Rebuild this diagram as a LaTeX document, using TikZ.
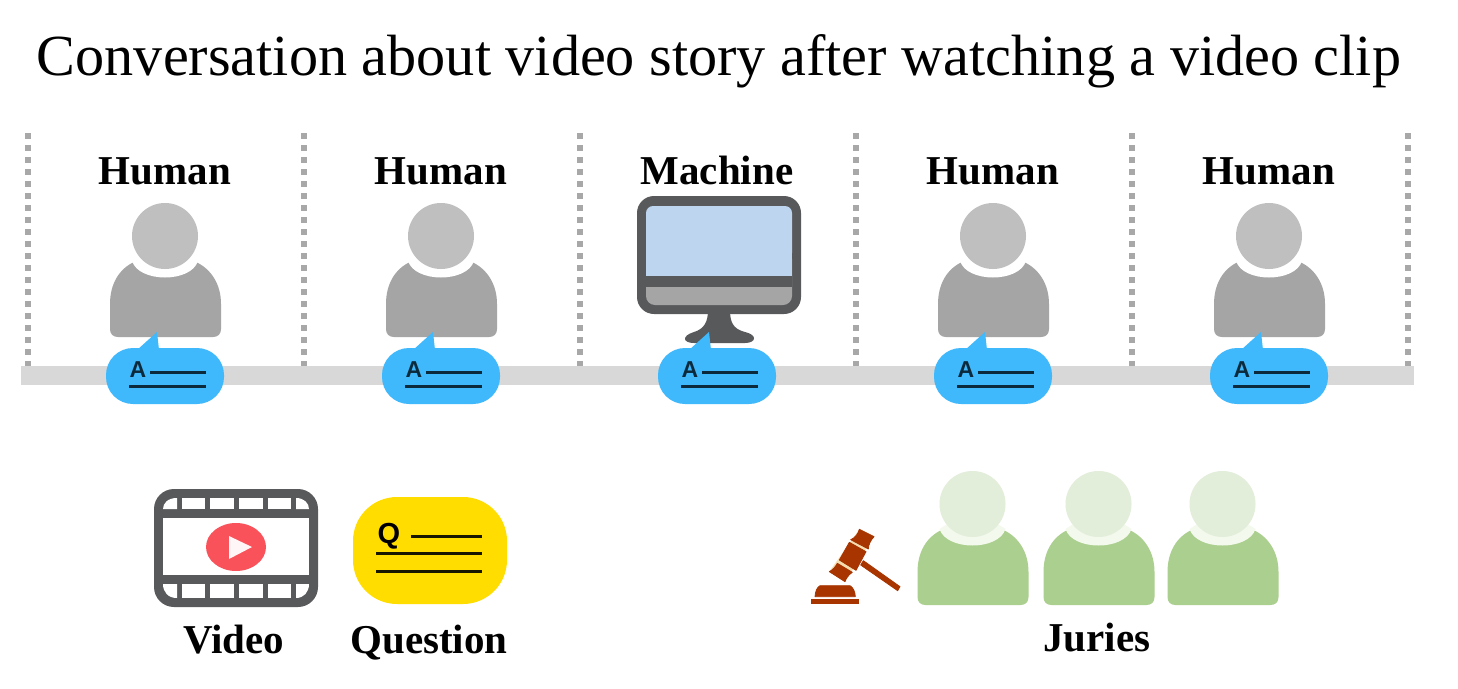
\documentclass[tikz,border=0pt]{standalone}
\usepackage{fontspec}
\setmainfont{Liberation Serif}
\newfontfamily\glyphfont{Liberation Sans}
\definecolor{bandgray}{HTML}{D8D8D8}
\definecolor{dotgray}{HTML}{A8A8A8}
\definecolor{headgray}{HTML}{BFBFBF}
\definecolor{bodygray}{HTML}{A5A5A6}
\definecolor{bubbleblue}{HTML}{3FB8FC}
\definecolor{inkdark}{HTML}{0B2A3C}
\definecolor{framedark}{HTML}{58595B}
\definecolor{screenblue}{HTML}{BDD5EE}
\definecolor{playred}{HTML}{F9525A}
\definecolor{qyellow}{HTML}{FFDD00}
\definecolor{bodygreen}{HTML}{ABCF8E}
\definecolor{headgreen}{HTML}{E2EDDA}
\definecolor{collargreen}{HTML}{F4F9EE}
\definecolor{gavelred}{HTML}{A83400}
\definecolor{gavelgap}{HTML}{F6DDB0}
\tikzset{
  x=1pt,y=-1pt,
  titletext/.style={inner sep=0,anchor=base,font=\fontsize{58.2}{58.2}\selectfont},
  labeltext/.style={inner sep=0,anchor=base,font=\fontsize{41}{41}\selectfont\bfseries},
  glyphtext/.style={inner sep=0,anchor=base,text=inkdark,font=\fontsize{23}{23}\selectfont\glyphfont\bfseries},
  inkline/.style={draw=inkdark,line width=3pt},
  dotline/.style={draw=dotgray,line width=5.5pt,dash pattern=on 6pt off 6pt},
  gavelpart/.style={fill=gavelred,draw=gavelred,line width=0.8pt,line join=round},
}
% #1 centre x, #2 vertical offset, #3 head, #4 body, #5 collar
\newcommand{\personfig}[5]{%
  \begin{scope}[shift={(#1,#2)}]
    \fill[#4] (-55,327) -- (-55,304) .. controls (-55,284) and (-46,269) .. (-31,262)
      .. controls (-15,256) and (15,256) .. (31,262)
      .. controls (46,269) and (56,284) .. (56,304) -- (56,329)
      .. controls (56,334) and (53,337) .. (48,337) -- (-47,337)
      .. controls (-52,337) and (-55,334) .. (-55,329) -- cycle;
    \fill[#5] (-33,261) .. controls (-26,283) and (26,283) .. (33,261) -- (0,240) -- cycle;
    \fill[#3] (0,236) circle (33pt);
  \end{scope}}
\newcommand{\answerbubble}[1]{%
  \begin{scope}[shift={(#1,0)}]
    \fill[bubbleblue] (-28,350) -- (-8,332) -- (-6,350) -- cycle;
    \fill[bubbleblue,rounded corners=27pt] (-59,348) rectangle (59,404);
    \node[glyphtext] at (-27,377.5) {A};
    \path[inkline] (-15,372) -- (41,372);
    \path[inkline] (-36,386) -- (41,386);
  \end{scope}}
\begin{document}
\begin{tikzpicture}
\useasboundingbox (0,0) rectangle (1458,688);
\fill[white] (0,0) rectangle (1458,688);
\node[titletext] (title) at (719,75) {Conversation about video story after watching a video clip};

\foreach \px in {28,304,580,856,1132,1408}
  \path[dotline] (\px,133) -- (\px,366);
\fill[bandgray] (21,366) rectangle (1414,385);

\node[labeltext] (h1) at (165,184) {Human};
\node[labeltext] (h2) at (441,184) {Human};
\node[labeltext] (m) at (717,184) {Machine};
\node[labeltext] (h3) at (993,184) {Human};
\node[labeltext] (h4) at (1269,184) {Human};

\foreach \px in {165,441,993,1269}
  \personfig{\px}{0}{headgray}{bodygray}{white};

% monitor
\fill[framedark] (708,310) -- (730,310) .. controls (730,322) and (733,329) .. (745,332)
  .. controls (758,335) and (756,343) .. (745,343) -- (694,343)
  .. controls (683,343) and (681,336) .. (694,332) .. controls (704,329) and (708,322) .. (708,310) -- cycle;
\fill[framedark,rounded corners=17pt] (637,196) rectangle (801,314);
\fill[bodygray,rounded corners=9pt] (646,250) rectangle (792,305);
\fill[screenblue,rounded corners=7pt] (646,206) rectangle (792,260);
\fill[screenblue] (646,225) rectangle (792,276);
\fill[framedark] (646,276) rectangle (792,287);
\fill[bodygray] (646,287) rectangle (792,293);

\foreach \px in {165,441,717,993,1269}
  \answerbubble{\px};

% video
\fill[framedark,rounded corners=20pt] (154,489) rectangle (318,607);
\fill[white] (163,518) rectangle (309,575);
\foreach \xa/\xb in {182/205,210/234,239/263,268/291} {
  \fill[white] (\xa,498) rectangle (\xb,509);
  \fill[white] (\xa,584) rectangle (\xb,598);
}
\fill[white] (177,498) -- (177,509) -- (163,509) .. controls (163,503) and (168,498) .. (177,498) -- cycle;
\fill[white] (296,498) -- (296,509) -- (309,509) .. controls (309,503) and (304,498) .. (296,498) -- cycle;
\fill[white] (177,598) -- (177,584) -- (163,584) .. controls (163,592) and (168,598) .. (177,598) -- cycle;
\fill[white] (296,598) -- (296,584) -- (309,584) .. controls (309,592) and (304,598) .. (296,598) -- cycle;
\fill[playred] (236,547) ellipse (30pt and 24pt);
\fill[white!95!playred] (229,536) -- (252,547) -- (229,559) -- cycle;

% question
\fill[qyellow,rounded corners=44pt] (353,497) rectangle (507,604);
\node[glyphtext,text=black,font=\fontsize{29}{29}\selectfont\glyphfont\bfseries] at (389,543) {Q};
\path[inkline,draw=black!90!qyellow] (411,536) -- (482,536);
\path[inkline,draw=black!90!qyellow] (376,553) -- (482,553);
\path[inkline,draw=black!90!qyellow] (376,571) -- (482,571);

% gavel
\begin{scope}[shift={(800,465)},x=0.3333pt,y=-0.3333pt]
  \fill[gavelgap] (178,193) -- (222,215) -- (135,350) -- (88,320) -- cycle;
  \path[gavelpart] (178,193) -- (222,215) .. controls (212,225) and (205,240) .. (205,252) -- (152,224) .. controls (165,220) and (175,205) .. (178,193) -- cycle;
  \path[gavelpart] (148,232) -- (198,260) -- (168,316) -- (118,285) -- cycle;
  \path[gavelpart] (112,295) -- (157,322) .. controls (145,330) and (138,340) .. (135,350) -- (88,320) .. controls (98,315) and (107,305) .. (112,295) -- cycle;
  \path[gavelpart] (190,287) -- (300,365) -- (293,377) -- (182,300) -- cycle;
  \path[gavelpart] (60,362) -- (150,362) .. controls (160,368) and (165,380) .. (166,395) -- (45,395) .. controls (46,380) and (50,368) .. (60,362) -- cycle;
  \fill[gavelred] (33,403) rectangle (178,417);
\end{scope}

% juries
\personfig{972.5}{268}{headgreen}{bodygreen}{collargreen};
\personfig{1098.5}{268}{headgreen}{bodygreen}{collargreen};
\personfig{1222.5}{268}{headgreen}{bodygreen}{collargreen};

\node[labeltext] (video) at (234,653) {Video};
\node[labeltext] (question) at (429,653) {Question};
\node[labeltext] (juries) at (1097,651) {Juries};
\end{tikzpicture}
\end{document}
